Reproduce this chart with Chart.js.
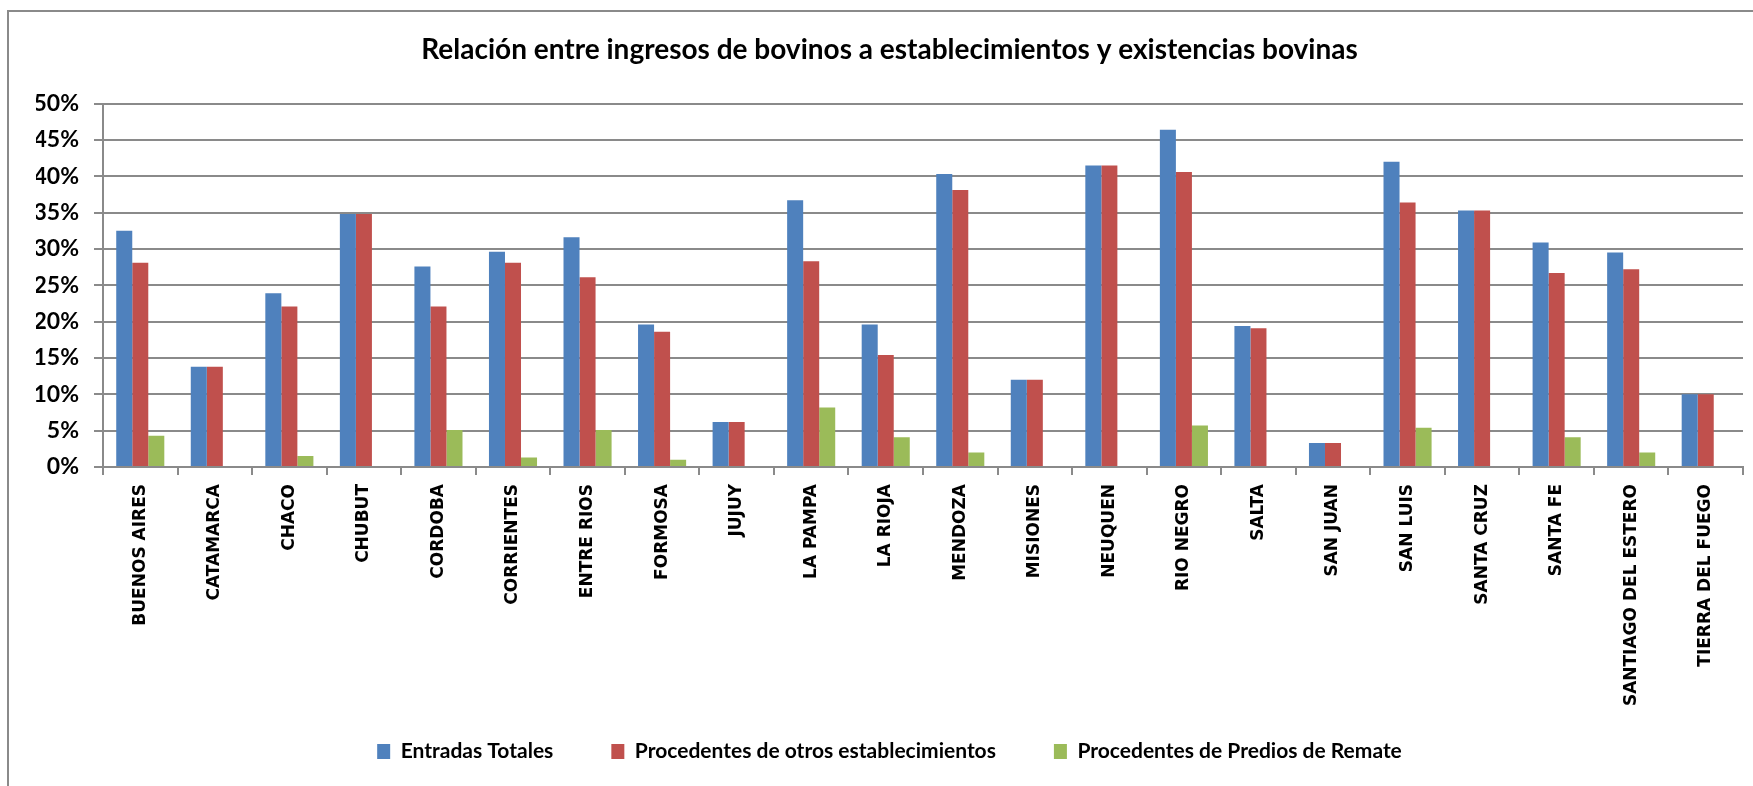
<!DOCTYPE html>
<html>
<head>
<meta charset="utf-8">
<title>Relación entre ingresos de bovinos</title>
<script src="https://cdn.jsdelivr.net/npm/chart.js@4.4.0/dist/chart.umd.min.js"></script>
<style>
	body { margin: 0; background: #fff; }
	#wrap { width: 1753px; height: 786px; position: relative; }
</style>
</head>
<body>
<div id="wrap"><canvas id="bovinos-chart"></canvas></div>
<script>
const provincias = [
	"BUENOS AIRES", "CATAMARCA", "CHACO", "CHUBUT", "CORDOBA", "CORRIENTES",
	"ENTRE RIOS", "FORMOSA", "JUJUY", "LA PAMPA", "LA RIOJA", "MENDOZA",
	"MISIONES", "NEUQUEN", "RIO NEGRO", "SALTA", "SAN JUAN", "SAN LUIS",
	"SANTA CRUZ", "SANTA FE", "SANTIAGO DEL ESTERO", "TIERRA DEL FUEGO",
];

// valores en %
const entradasTotales = [
	32.5, 13.8, 23.9, 34.8, 27.6, 29.6, 31.6, 19.6, 6.2, 36.7, 19.6, 40.3,
	12.0, 41.5, 46.4, 19.4, 3.3, 42.0, 35.3, 30.9, 29.5, 10.0,
];
const otrosEstablecimientos = [
	28.1, 13.8, 22.1, 34.8, 22.1, 28.1, 26.1, 18.6, 6.2, 28.3, 15.4, 38.1,
	12.0, 41.5, 40.6, 19.1, 3.3, 36.4, 35.3, 26.7, 27.2, 10.0,
];
const prediosRemate = [
	4.3, 0, 1.5, 0, 5.1, 1.3, 5.1, 1.0, 0, 8.2, 4.1, 2.0,
	0, 0, 5.7, 0, 0, 5.4, 0, 4.1, 2.0, 0,
];

const seriesNames = [
	"Entradas Totales",
	"Procedentes de otros establecimientos",
	"Procedentes de Predios de Remate",
];
const seriesColors = ["#4f81bd", "#c0504d", "#9bbb59"];
const yTicks = [0, 5, 10, 15, 20, 25, 30, 35, 40, 45, 50];

const gridGray = "#8a8a8a";

//------------marco exterior del grafico----------
const framePlugin = {
	id: "frame",
	afterLayout: (chart) => {
		// que las etiquetas largas del eje x no se corten
		chart.scales.x.bottom = chart.height;
	},
	beforeDraw: (chart) => {
		const ctx = chart.ctx;
		ctx.save();
		ctx.strokeStyle = gridGray;
		ctx.lineWidth = 2;
		ctx.beginPath();
		ctx.moveTo(8, chart.height);
		ctx.lineTo(8, 11);
		ctx.lineTo(chart.width, 11);
		ctx.stroke();
		ctx.restore();
	},
};

const makeDataset = (idx, values) => ({
	label: seriesNames[idx],
	data: values,
	backgroundColor: seriesColors[idx],
	borderWidth: 0,
	categoryPercentage: 0.645,
	barPercentage: 1.0,
});

const config = {
	type: "bar",
	data: {
		labels: provincias,
		datasets: [
			makeDataset(0, entradasTotales),
			makeDataset(1, otrosEstablecimientos),
			makeDataset(2, prediosRemate),
		],
	},
	options: {
		responsive: true,
		maintainAspectRatio: false,
		animation: false,
		devicePixelRatio: 1,
		layout: {
			padding: { top: 12, left: 36, right: 10, bottom: 14 },
		},
		scales: {
			y: {
				min: 0,
				max: 50,
				afterFit: (axis) => {
					axis.width = 67;
				},
				afterBuildTicks: (axis) => {
					axis.ticks = yTicks.map((v) => ({ value: v }));
				},
				grid: {
					color: gridGray,
					lineWidth: 2,
					tickLength: 9,
				},
				border: { color: gridGray, width: 2 },
				ticks: {
					color: "#000",
					padding: 15,
					font: { family: "Lato", size: 23, weight: "bold" },
					callback: (v) => v + "%",
				},
			},
			x: {
				afterFit: (axis) => {
					axis.height = 216;
				},
				grid: {
					offset: true,
					drawOnChartArea: false,
					drawTicks: true,
					tickLength: 8,
					color: gridGray,
					lineWidth: 2,
				},
				border: { color: gridGray, width: 2 },
				ticks: {
					autoSkip: false,
					maxRotation: 90,
					minRotation: 90,
					padding: 9,
					color: "#000",
					font: { family: "DejaVu Sans", size: 17, weight: "bold" },
				},
			},
		},
		plugins: {
			title: {
				display: true,
				text: "Relación entre ingresos de bovinos a establecimientos y existencias bovinas",
				color: "#000",
				font: { family: "Lato", size: 28, weight: "bold" },
				padding: { top: 21, bottom: 37 },
			},
			legend: {
				position: "bottom",
				labels: {
					boxWidth: 13,
					boxHeight: 15,
					padding: 58,
					color: "#000",
					font: { family: "Lato", size: 21, weight: "bold" },
				},
			},
			tooltip: { enabled: false },
		},
	},
	plugins: [framePlugin],
};

const bovinosChart = new Chart(document.getElementById("bovinos-chart"), config);
</script>
</body>
</html>
